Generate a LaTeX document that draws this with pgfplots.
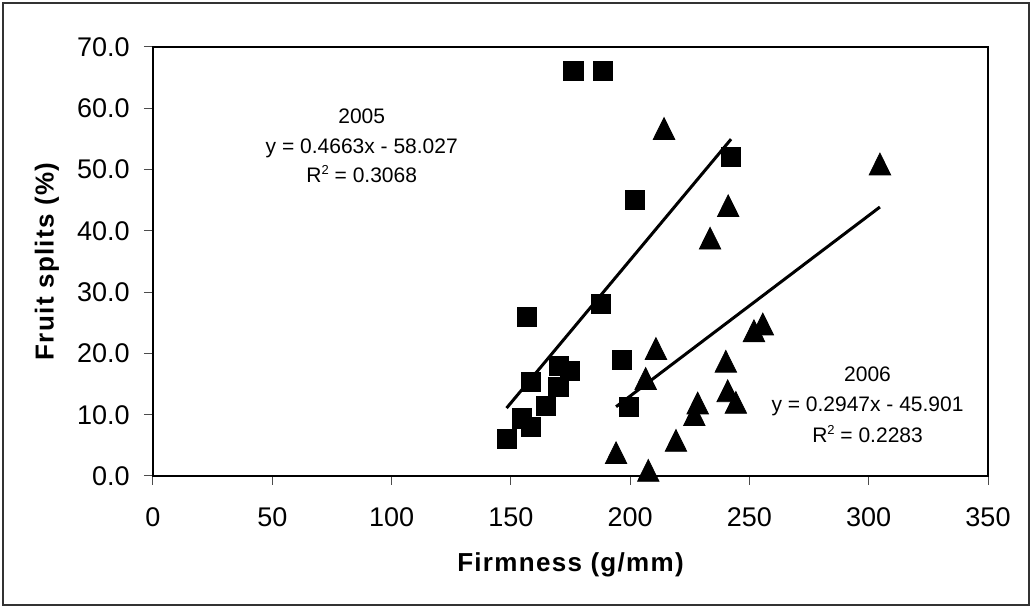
\documentclass[border=0pt]{standalone}
\usepackage{fontspec}
\setmainfont{Liberation Sans}
\newfontfamily\labelfont[LetterSpace=5]{Liberation Sans}
\usepackage{pgfplots}
\pgfplotsset{compat=1.18}

% 2005 (squares)
\pgfplotstableread{
x     y
176.2 66.1
188.7 66.1
242.3 52.1
202.0 45.1
187.8 28.1
156.6 26.0
196.7 18.9
158.4 15.4
170.2 18.0
174.8 17.2
169.9 14.5
164.6 11.5
154.5 9.4
158.4 8.0
148.2 6.0
199.5 11.3
}\yrfive

% 2006 (triangles)
\pgfplotstableread{
x     y
214.2 56.7
241.1 44.1
233.5 38.8
210.8 20.8
206.5 15.9
194.1 3.8
207.6 0.9
219.2 5.8
226.9 10.0
228.3 11.9
240.1 18.7
240.9 13.9
244.3 12.0
251.9 23.7
255.6 24.8
304.7 50.9
}\yrsix

\newcommand{\sq}{\raisebox{0.75ex}{\fontsize{6.5}{7}\selectfont 2}}

\begin{document}
\begin{tikzpicture}
\useasboundingbox (-76.5pt,-66pt) rectangle (439.5pt,238pt);
\draw[line width=0.6pt, black!80] (-75pt,-64.5pt) rectangle (438pt,236.5pt);
\begin{axis}[
    at={(0pt,0pt)}, anchor=south west,
    scale only axis,
    width=417.5pt, height=214.5pt,
    xmin=0, xmax=350, ymin=0, ymax=70,
    xtick={0,50,...,350},
    ytick={0,10,...,70},
    tick pos=left,
    tick align=outside,
    major tick length=4.5pt,
    major tick style={line width=0.5pt, black!70},
    axis line style={line width=1pt},
    clip=false,
    /pgf/number format/assume math mode=true,
    yticklabel style={/pgf/number format/fixed, /pgf/number format/fixed zerofill, /pgf/number format/precision=1},
    x tick label style={font=\fontsize{13.5}{16}\selectfont, inner sep=0pt, anchor=center, yshift=-16pt},
    y tick label style={font=\fontsize{13.5}{16}\selectfont, inner sep=0pt, anchor=east, xshift=-7pt},
    xlabel={Firmness (g/mm)},
    ylabel={Fruit splits (\%)},
    xlabel style={font=\labelfont\fontsize{13}{15}\selectfont\bfseries, at={(axis description cs:0.5,0)}, anchor=center, yshift=-44.5pt},
    ylabel style={font=\labelfont\fontsize{13}{15}\selectfont\bfseries, at={(axis description cs:0,0.5)}, anchor=center, rotate=0, yshift=53pt},
]
\addplot[only marks, mark=square*, mark size=4.8pt, black] table[x=x, y=y] {\yrfive};
\addplot[only marks, mark=triangle*, mark size=6.2pt, black,
    mark options={yshift=-1.8pt, yscale=1.17}] table[x=x, y=y] {\yrsix};

% trendlines
\addplot[black, line width=1.5pt] coordinates {(148.2,11.08) (242.3,54.96)};
\addplot[black, line width=1.5pt] coordinates {(194.1,11.30) (304.7,43.89)};

\begin{scope}[every node/.style={font=\fontsize{10.5}{12}\selectfont, anchor=base, inner sep=0pt}]
\node at (axis cs:87.5,57.55) {2005};
\node at (axis cs:87.5,52.65) {y = 0.4663x - 58.027};
\node at (axis cs:87.5,47.86) {R\sq\ = 0.3068};
\node at (axis cs:299.5,15.39) {2006};
\node at (axis cs:299.5,10.49) {y = 0.2947x - 45.901};
\node at (axis cs:299.5,5.43) {R\sq\ = 0.2283};
\end{scope}
\end{axis}
\end{tikzpicture}
\end{document}
